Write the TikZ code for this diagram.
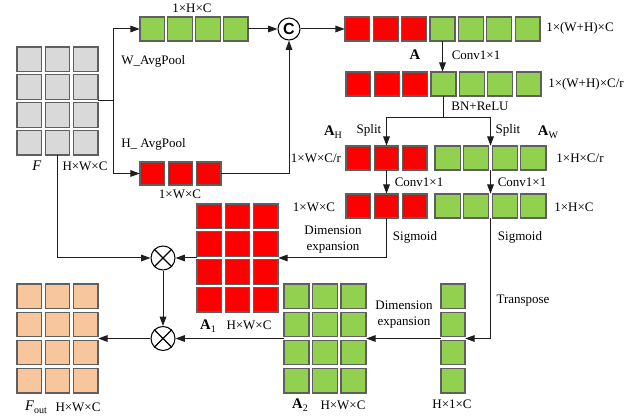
\documentclass[tikz,border=0pt]{standalone}
\usepackage{fontspec}
\setmainfont{Liberation Serif}
\newfontfamily\sansbold{Liberation Sans}
\usetikzlibrary{arrows.meta,fit}
\definecolor{cred}{RGB}{255,0,0}
\definecolor{cgreen}{RGB}{146,208,80}
\definecolor{cgray}{RGB}{217,217,217}
\definecolor{cpeach}{RGB}{248,198,156}
\definecolor{cedge}{RGB}{95,95,95}
\definecolor{cline}{RGB}{30,30,30}

% lowered subscript in text mode
\newcommand\lowsub[1]{\raisebox{-0.5ex}{\fontsize{7.5}{8}\selectfont #1}}

% gap between neighbouring cells
\def\cellgap{3.5}

% grid of cells: name, left, top, right, bottom, rows, colour of each column
\newcommand\cellgrid[7]{%
  \foreach \gcol [count=\n] in {#7}{\xdef\gridcols{\n}}%
  \pgfmathsetmacro\cw{((#4)-(#2)-\cellgap*(\gridcols-1))/\gridcols}%
  \pgfmathsetmacro\ch{((#5)-(#3)-\cellgap*((#6)-1))/(#6)}%
  \foreach \gcol [count=\i] in {#7}{%
    \foreach \j in {1,...,#6}{%
      \draw[cell,fill=\gcol] ({#2+(\i-1)*(\cw+\cellgap)},{#3+(\j-1)*(\ch+\cellgap)}) rectangle ++(\cw,\ch);
    }}%
  \node[fit={(#2,#3)(#4,#5)},inner sep=0pt] (#1) {};
}

\begin{document}
\begin{tikzpicture}[x=0.75pt,y=-0.75pt,
  cell/.style={draw=cedge,line width=0.9pt},
  conn/.style={draw=cline,line width=0.75pt},
  arr/.style={conn,-{Triangle[length=7pt,width=5pt]}},
  lbl/.style={font=\fontsize{9.75}{12}\selectfont,inner sep=0pt,align=center},
  big/.style={font=\fontsize{11}{12}\selectfont,inner sep=0pt},
  op/.style={circle,draw=black,line width=0.8pt,minimum size=18pt,inner sep=0pt}]
\useasboundingbox (0,0) rectangle (636,417);

% feature maps and strips
\cellgrid{F}{17}{47}{98}{155}{4}{cgray,cgray,cgray}
\cellgrid{Ws}{140}{17}{248}{41}{1}{cgreen,cgreen,cgreen,cgreen}
\cellgrid{Hs}{140}{162}{221}{185}{1}{cred,cred,cred}
\node[op,minimum size=16.5pt] (cat) at (289,29) {\sansbold\bfseries\fontsize{12}{12}\selectfont C};
\cellgrid{A}{345}{17}{540}{41}{1}{cred,cred,cred,cgreen,cgreen,cgreen,cgreen}
\cellgrid{Ar}{346}{72}{541}{96}{1}{cred,cred,cred,cgreen,cgreen,cgreen,cgreen}
\cellgrid{AH}{346}{146}{427}{170}{1}{cred,cred,cred}
\cellgrid{AW}{435}{146}{546}{170}{1}{cgreen,cgreen,cgreen,cgreen}
\cellgrid{AHc}{346}{194}{427}{218}{1}{cred,cred,cred}
\cellgrid{AWc}{435}{194}{546}{218}{1}{cgreen,cgreen,cgreen,cgreen}
\cellgrid{A1}{197}{204}{278}{312}{4}{cred,cred,cred}
\cellgrid{A2}{284}{284}{366}{393}{4}{cgreen,cgreen,cgreen}
\cellgrid{T}{441}{284}{465}{393}{4}{cgreen}
\cellgrid{Fout}{17}{284}{98}{393}{4}{cpeach,cpeach,cpeach}

% multiplication operators
\node[op] (m1) at (163,258) {};
\node[op] (m2) at (163,338.5) {};
\foreach \m in {m1,m2}
  \draw[line width=0.8pt] (\m.north east) -- (\m.south west) (\m.north west) -- (\m.south east);

% connectors
\draw[arr] (F.east) -- ++(15,0) |- (Ws.west);
\draw[arr] (F.east) -- ++(15,0) |- (Hs.west);
\draw[arr] (Ws.east) -- (cat.west);
\draw[arr] (Hs.east) -| (cat.south);
\draw[arr] (cat.east) -- (A.west);
\draw[arr] (A.south) -- (A.south |- Ar.north);
\draw[conn] (Ar.south) -- ++(0,21) coordinate (sp);
\draw[arr] (sp) -| (AH.north);
\draw[arr] (sp) -| (AW.north);
\draw[arr] (AH.south) -- (AHc.north);
\draw[arr] (AW.south) -- (AWc.north);
\draw[arr] (AHc.south) |- (A1.east);
\draw[arr] (AWc.south) |- (T.east);
\draw[arr] (T.west) -- (A2.east);
\draw[arr] (A2.west) -- (m2.east);
\draw[arr] (m2.west) -- (Fout.east);
\draw[arr] (A1.west) -- (m1.east);
\draw[arr] (F.south) |- (m1.west);
\draw[arr] (m1.south) -- (m2.north);

% labels
\node[lbl] at (192,8) {1×H×C};
\node[lbl,anchor=west] at (121,61) {W\_AvgPool};
\node[lbl,anchor=west] at (121,144) {H\_ AvgPool};
\node[lbl] at (180,194) {1×W×C};
\node[big] at (37,166) {\textit{F}};
\node[lbl] at (85,166) {H×W×C};
\node[lbl] at (316,158) {1×W×C/r};
\node[lbl] at (580,28) {1×(W+H)×C};
\node[big] at (415,55) {\textbf{A}};
\node[lbl] at (476,55) {Conv1×1};
\node[lbl] at (586,84) {1×(W+H)×C/r};
\node[lbl] at (480,106) {BN+ReLU};
\node[lbl] at (369,130) {Split};
\node[lbl] at (508,130) {Split};
\node[big] at (333,132) {\textbf{A}\lowsub{H}};
\node[big] at (548,132) {\textbf{A}\lowsub{W}};
\node[lbl] at (580,158) {1×H×C/r};
\node[lbl] at (419,182) {Conv1×1};
\node[lbl] at (522,182) {Conv1×1};
\node[lbl] at (314,207) {1×W×C};
\node[lbl] at (574,207) {1×H×C};
\node[lbl] at (415,237) {Sigmoid};
\node[lbl] at (520,237) {Sigmoid};
\node[lbl] at (333,240) {Dimension\\expansion};
\node[lbl] at (523,301) {Transpose};
\node[lbl] at (404,315) {Dimension\\expansion};
\node[big] at (208,326) {\textbf{A}\lowsub{1}};
\node[lbl] at (249,325) {H×W×C};
\node[big] at (300,405) {\textbf{A}\lowsub{2}};
\node[lbl] at (343,405) {H×W×C};
\node[lbl] at (452,404) {H×1×C};
\node[big] at (36,407) {\textit{F}\lowsub{out}};
\node[lbl] at (78,407) {H×W×C};
\end{tikzpicture}
\end{document}
